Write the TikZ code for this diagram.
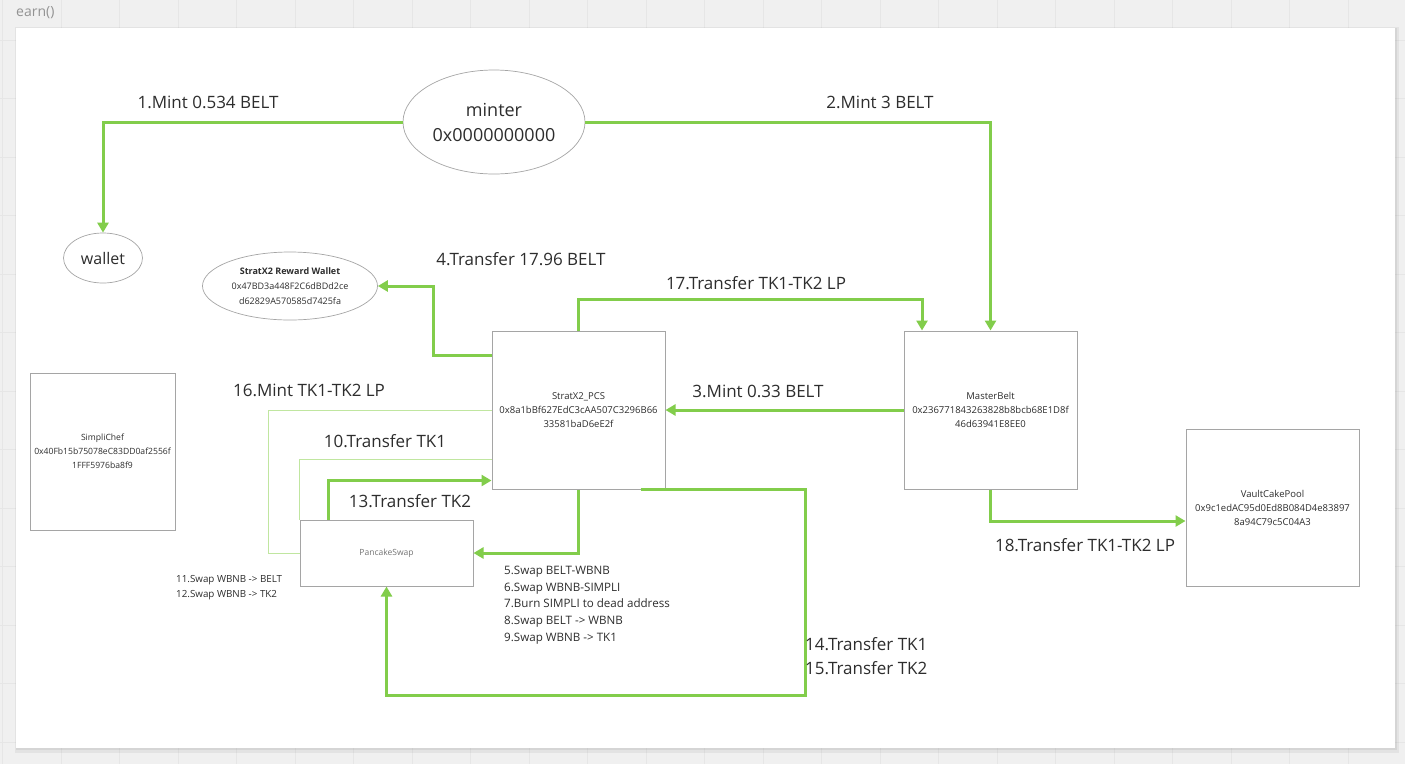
\documentclass[tikz,border=0pt]{standalone}
\usepackage{fontspec}
\setmainfont{Open Sans}
\usetikzlibrary{arrows.meta,shapes.geometric}
\definecolor{lg}{RGB}{130,205,75}
\definecolor{tg}{RGB}{192,230,160}
\definecolor{txt}{RGB}{45,45,45}
\definecolor{bx}{RGB}{165,165,165}
\definecolor{bgc}{RGB}{240,240,240}
\definecolor{gridc}{RGB}{230,230,230}
\begin{document}
\begin{tikzpicture}[x=1pt,y=-1pt,
  flow/.style={draw=lg,line width=3pt,-{Triangle[length=10pt,width=11pt]}},
  thinflow/.style={draw=tg,line width=1pt},
  box/.style={rectangle,draw=bx,line width=1pt,fill=white,align=center,text=txt,font=\fontsize{9.5}{14}\selectfont,inner sep=0pt},
  oval/.style={ellipse,draw=bx,line width=0.7pt,fill=white,align=center,text=txt,inner sep=0pt},
  lbl/.style={text=txt,font=\fontsize{17}{21}\selectfont,inner sep=0pt}]
\useasboundingbox (0,0) rectangle (1405,764);
\fill[bgc] (0,0) rectangle (1405,764);
\foreach \i in {0,...,24} {\draw[gridc,line width=1pt] ({2.5+58.5*\i},0) -- ({2.5+58.5*\i},764);}
\foreach \j in {0,...,13} {\draw[gridc,line width=1pt] (0,{-18.5+58.5*\j}) -- (1405,{-18.5+58.5*\j});}
% panel
\fill[black,opacity=0.05] (15,27) rectangle (1399,753);
\fill[black,opacity=0.06] (16,28) rectangle (1397,750);
\fill[white] (16,28) rectangle (1395,748);
\node[anchor=west,text=gray!85,font=\fontsize{14}{17}\selectfont,inner sep=0pt] (title) at (16,13) {earn()};
% nodes
\node[oval,minimum width=182pt,minimum height=104pt,font=\fontsize{18}{25}\selectfont] (minter) at (494,122) {minter\\0x0000000000};
\node[oval,minimum width=79pt,minimum height=50pt,font=\fontsize{16}{20}\selectfont] (wallet) at (103,258) {wallet};
\node[oval,minimum width=175pt,minimum height=68pt,font=\fontsize{9}{15}\selectfont] (rw) at (290,286) {\textbf{StratX2 Reward Wallet}\\0x47BD3a448F2C6dBDd2ce\\d62829A570585d7425fa};
\node[box,minimum width=173pt,minimum height=158pt] (sx) at (578.5,410) {StratX2\_PCS\\0x8a1bBf627EdC3cAA507C3296B66\\33581baD6eE2f};
\node[box,minimum width=173pt,minimum height=158pt] (mb) at (990.5,410) {MasterBelt\\0x236771843263828b8bcb68E1D8f\\46d63941E8EE0};
\node[box,minimum width=145pt,minimum height=157pt,font=\fontsize{8.6}{14}\selectfont] (sc) at (102.5,451.5) {SimpliChef\\0x40Fb15b75078eC83DD0af2556f\\1FFF5976ba8f9};
\node[box,minimum width=173pt,minimum height=157pt] (vc) at (1272.5,507.5) {VaultCakePool\\0x9c1edAC95d0Ed8B084D4e83897\\8a94C79c5C04A3};
\node[box,minimum width=173pt,minimum height=66pt,text=gray!90!black,font=\fontsize{8.5}{12}\selectfont] (ps) at (386.5,553) {PancakeSwap};
% connectors
\draw[flow] (minter.west) -| (wallet.north);
\draw[flow] (minter.east) -| (mb.north);
\draw[flow] (mb.west) -- (sx.east);
\draw[flow] ([yshift=-25pt]sx.north west) -- ++(-58,0) |- (rw.east);
\draw[flow] (sx.north) -- ++(0,-31) -| ([xshift=-68.5pt]mb.north);
\draw[flow] (mb.south) |- ([yshift=-13.5pt]vc.west);
\draw[flow] (sx.south) |- (ps.east);
\draw[flow] ([xshift=-25pt]sx.south east) -- ++(165,0) -- ++(0,206) -| (ps.south);
\draw[flow] ([xshift=29pt]ps.north west) |- ([yshift=-150pt]sx.north west);
\draw[thinflow] (ps.north west) |- ([yshift=-129pt]sx.north west);
\draw[thinflow] (sx.west) -- ++(-223,0) |- (ps.west);
% labels
\node[lbl] (l1) at (208,102) {1.Mint 0.534 BELT};
\node[lbl] (l2) at (880,102) {2.Mint 3 BELT};
\node[lbl] (l3) at (758,391) {3.Mint 0.33 BELT};
\node[lbl] (l4) at (521,259) {4.Transfer 17.96 BELT};
\node[lbl] (l17) at (756,283) {17.Transfer TK1-TK2 LP};
\node[lbl] (l18) at (1085,545) {18.Transfer TK1-TK2 LP};
\node[lbl] (l16) at (309,390) {16.Mint TK1-TK2 LP};
\node[lbl] (l10) at (385,441) {10.Transfer TK1};
\node[lbl] (l13) at (410,501) {13.Transfer TK2};
\node[lbl,anchor=west] (l14) at (805,644) {14.Transfer TK1};
\node[lbl,anchor=west] (l15) at (805,668) {15.Transfer TK2};
\node[anchor=west,align=left,text=txt,inner sep=0pt,font=\fontsize{11.6}{16.8}\selectfont] (swaps) at (504,605) {5.Swap BELT-WBNB\\6.Swap WBNB-SIMPLI\\7.Burn SIMPLI to dead address\\8.Swap BELT -> WBNB\\9.Swap WBNB -> TK1};
\node[anchor=west,align=left,text=txt,inner sep=0pt,font=\fontsize{9.8}{15}\selectfont] (swaps2) at (176,587.5) {11.Swap WBNB -> BELT\\12.Swap WBNB -> TK2};
\end{tikzpicture}
\end{document}
